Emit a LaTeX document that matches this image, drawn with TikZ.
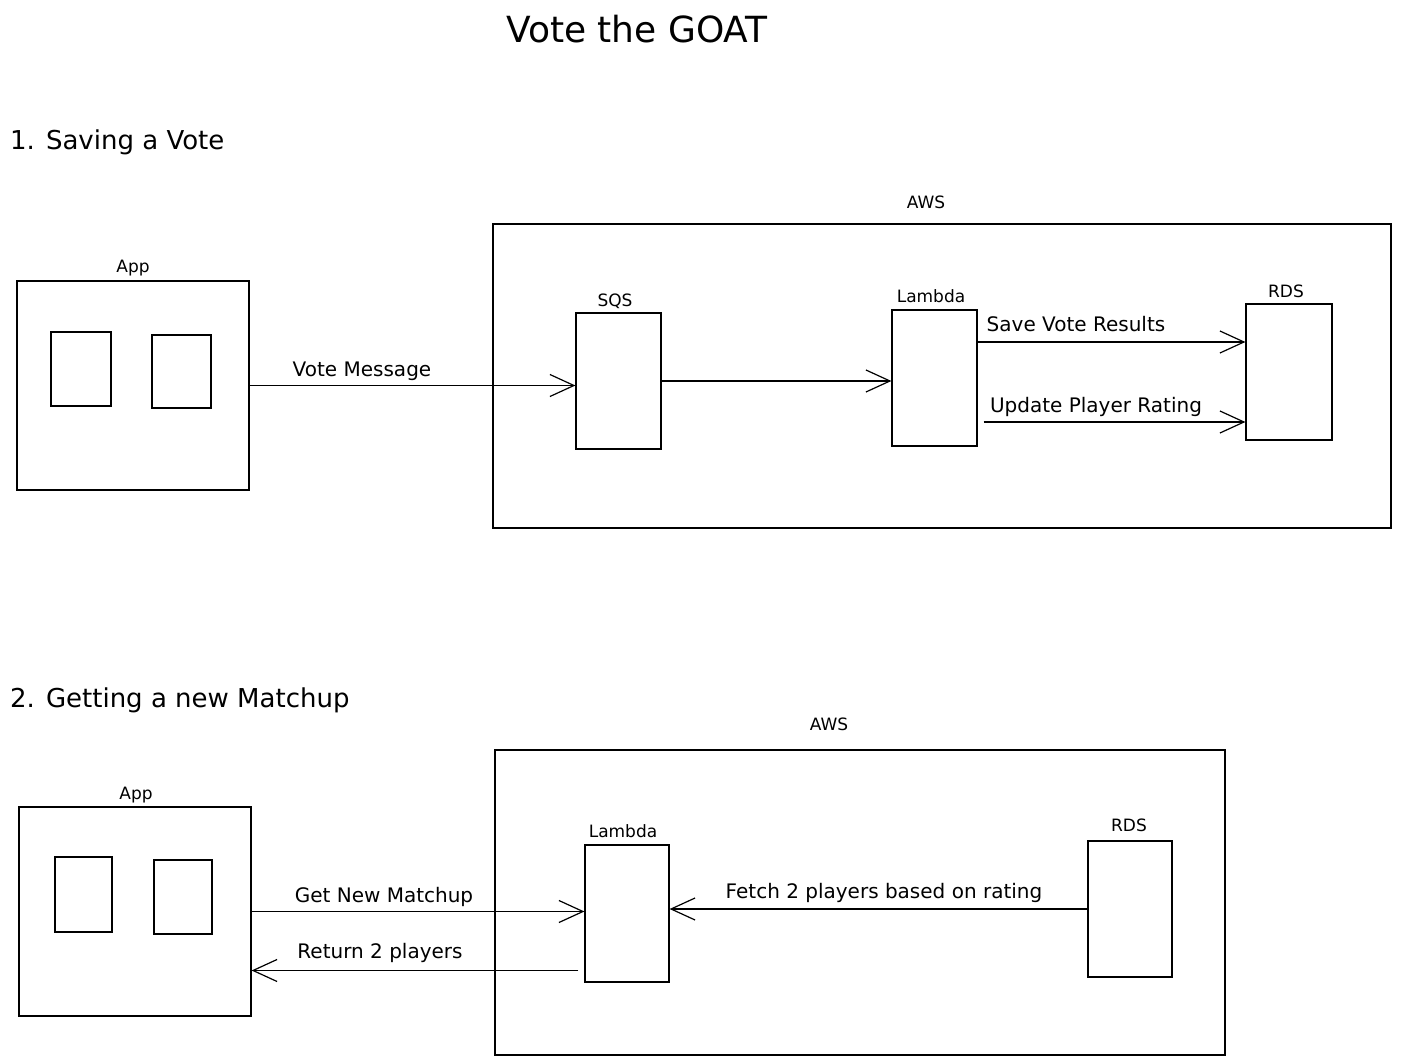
\documentclass[tikz,border=0pt]{standalone}
\usepackage{fontspec}
\setmainfont{DejaVu Sans}
\usetikzlibrary{arrows.meta}

\begin{document}
\begin{tikzpicture}[x=1pt,y=-1pt,
    box/.style={draw=black,line width=1.2pt,inner sep=0pt},
    arr/.style={draw=black,line width=1.2pt,-{Straight Barb[length=24pt,width=22pt,line width=1.2pt]}},
    ttl/.style={font=\fontsize{36}{40}\selectfont},
    sec/.style={font=\fontsize{26}{30}\selectfont,anchor=base west},
    tag/.style={font=\fontsize{17}{20}\selectfont,anchor=base},
    lbl/.style={font=\fontsize{20}{24}\selectfont,anchor=base}]
    \tikzstyle{every node}+=[inner sep=0pt]
    \useasboundingbox (0,0) rectangle (1401,1064);
    \node [ttl,anchor=base] (title) at (637,43) {Vote the GOAT};
    \node [sec] (head1) at (10,150) {1. Saving a Vote};
    \node [box,minimum width=898,minimum height=304] (aws1) at (942,376) {};
    \node [tag] (aws1t) at (926,209) {AWS};
    \node [box,minimum width=232,minimum height=209] (app1) at (133,385.5) {};
    \node [tag] (app1t) at (133,273) {App};
    \node [box,minimum width=60,minimum height=74] (card1a) at (81,369) {};
    \node [box,minimum width=59,minimum height=73] (card1b) at (181.5,371.5) {};
    \node [box,minimum width=85,minimum height=136] (sqs1) at (618.5,381) {};
    \node [tag] (sqs1t) at (615,307) {SQS};
    \node [box,minimum width=85,minimum height=136] (lam1) at (934.5,378) {};
    \node [tag] (lam1t) at (931,303) {Lambda};
    \node [box,minimum width=86,minimum height=136] (rds1) at (1289,372) {};
    \node [tag] (rds1t) at (1286,298) {RDS};
    \draw [arr] (app1.east) -- (app1.east -| sqs1.west);
    \node [lbl] (msg1) at (362,377) {Vote Message};
    \draw [arr] (sqs1.east) -- (sqs1.east -| lam1.west);
    \draw [arr] ([yshift=36pt]lam1.east) -- ([yshift=36pt]lam1.east -| rds1.west);
    \node [lbl] (save1) at (1076,332) {Save Vote Results};
    \draw [arr] ([xshift=6pt,yshift=-44pt]lam1.east) -- ([yshift=-44pt]lam1.east -| rds1.west);
    \node [lbl] (upd1) at (1096,413) {Update Player Rating};
    \node [sec] (head2) at (10,707) {2. Getting a new Matchup};
    \node [box,minimum width=730,minimum height=305] (aws2) at (860,902.5) {};
    \node [tag] (aws2t) at (829,730) {AWS};
    \node [box,minimum width=232,minimum height=209] (app2) at (135,911.5) {};
    \node [tag] (app2t) at (136,799) {App};
    \node [box,minimum width=57,minimum height=75] (card2a) at (83.5,894.5) {};
    \node [box,minimum width=58,minimum height=74] (card2b) at (183,897) {};
    \node [box,minimum width=84,minimum height=137] (lam2) at (627,913.5) {};
    \node [tag] (lam2t) at (623,837) {Lambda};
    \node [box,minimum width=84,minimum height=136] (rds2) at (1130,909) {};
    \node [tag] (rds2t) at (1129,831) {RDS};
    \draw [arr] (app2.east) -- (app2.east -| lam2.west);
    \node [lbl] (get2) at (384,902) {Get New Matchup};
    \draw [arr] ([xshift=-6pt,yshift=-57pt]lam2.west) -- ([yshift=-57pt]lam2.west -| app2.east);
    \node [lbl] (ret2) at (380,958) {Return 2 players};
    \draw [arr] (rds2.west) -- (rds2.west -| lam2.east);
    \node [lbl] (fetch2) at (884,898) {Fetch 2 players based on rating};
\end{tikzpicture}
\end{document}
